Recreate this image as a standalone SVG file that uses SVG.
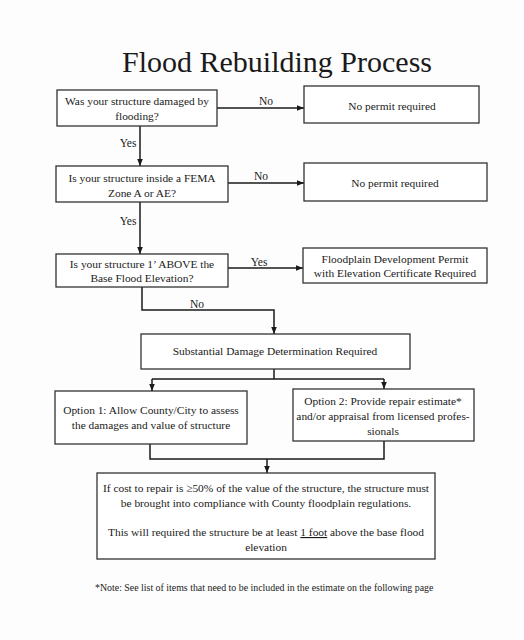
<svg xmlns="http://www.w3.org/2000/svg" width="524" height="640" viewBox="0 0 524 640">
<style>
.bg{fill:#fdfdfd}
.box{fill:#ffffff;stroke:#333;stroke-width:1.3}
.t{font-family:"Liberation Serif","Times New Roman",serif;font-size:11.4px;fill:#1a1a1a;text-anchor:middle}
.lbl{font-family:"Liberation Serif","Times New Roman",serif;font-size:11.5px;fill:#1a1a1a;text-anchor:middle}
.c{fill:none;stroke:#1a1a1a;stroke-width:1.5}
</style>
<defs>
<marker id="ah" viewBox="0 0 10 10" refX="10" refY="5" markerWidth="7" markerHeight="7" orient="auto" markerUnits="userSpaceOnUse">
<path d="M0,1 L10,5 L0,9 z" fill="#1a1a1a"/>
</marker>
</defs>
<rect class="bg" x="0" y="0" width="524" height="640"/>
<text x="277" y="72" font-family="Liberation Serif,'Times New Roman',serif" font-size="30" fill="#1a1a1a" text-anchor="middle">Flood Rebuilding Process</text>

<g id="connectors">
<path class="c" d="M217,108 H304" marker-end="url(#ah)"/>
<path class="c" d="M140,126 V166" marker-end="url(#ah)"/>
<path class="c" d="M228,183 H304" marker-end="url(#ah)"/>
<path class="c" d="M140,202 V254" marker-end="url(#ah)"/>
<path class="c" d="M228,268 H303" marker-end="url(#ah)"/>
<path class="c" d="M142,287 V310 H274 V334" marker-end="url(#ah)"/>
<path class="c" d="M274,369 V379"/>
<path class="c" d="M152,379 H384"/>
<path class="c" d="M152,379 V391" marker-end="url(#ah)"/>
<path class="c" d="M384,379 V389" marker-end="url(#ah)"/>
<path class="c" d="M150,444 V459 H384 V441"/>
<path class="c" d="M267,459 V473" marker-end="url(#ah)"/>
<text class="lbl" x="266" y="105">No</text>
<text class="lbl" x="128" y="147">Yes</text>
<text class="lbl" x="261" y="180">No</text>
<text class="lbl" x="128" y="225">Yes</text>
<text class="lbl" x="259" y="266">Yes</text>
<text class="lbl" x="197" y="308">No</text>
</g>

<g id="q1">
<rect class="box" x="57" y="90" width="160" height="36"/>
<text class="t" x="137" y="105">Was your structure damaged by</text>
<text class="t" x="137" y="120">flooding?</text>
</g>
<g id="np1">
<rect class="box" x="304" y="86" width="175" height="37"/>
<text class="t" x="392" y="110">No permit required</text>
</g>
<g id="q2">
<rect class="box" x="56" y="166" width="172" height="36"/>
<text class="t" x="142" y="182">Is your structure inside a FEMA</text>
<text class="t" x="142" y="197">Zone A or AE?</text>
</g>
<g id="np2">
<rect class="box" x="304" y="163" width="183" height="38"/>
<text class="t" x="395" y="187">No permit required</text>
</g>
<g id="q3">
<rect class="box" x="56" y="254" width="172" height="33"/>
<text class="t" x="142" y="268">Is your structure 1’ ABOVE the</text>
<text class="t" x="142" y="282">Base Flood Elevation?</text>
</g>
<g id="fdp">
<rect class="box" x="303" y="248" width="184" height="35"/>
<text class="t" x="395" y="263">Floodplain Development Permit</text>
<text class="t" x="395" y="277">with Elevation Certificate Required</text>
</g>
<g id="sdd">
<rect class="box" x="141" y="334" width="269" height="35"/>
<text class="t" x="275" y="355">Substantial Damage Determination Required</text>
</g>
<g id="opt1">
<rect class="box" x="55" y="391" width="192" height="53"/>
<text class="t" x="151" y="414">Option 1: Allow County/City to assess</text>
<text class="t" x="151" y="429">the damages and value of structure</text>
</g>
<g id="opt2">
<rect class="box" x="293" y="389" width="181" height="52"/>
<text class="t" x="383" y="405">Option 2: Provide repair estimate*</text>
<text class="t" x="383" y="420">and/or appraisal from licensed profes-</text>
<text class="t" x="383" y="435">sionals</text>
</g>
<g id="result">
<rect class="box" x="97" y="473" width="338" height="86"/>
<text class="t" x="266" y="492">If cost to repair is ≥50% of the value of the structure, the structure must</text>
<text class="t" x="266" y="507">be brought into compliance with County floodplain regulations.</text>
<text class="t" x="266" y="536">This will required the structure be at least <tspan text-decoration="underline">1 foot</tspan> above the base flood</text>
<text class="t" x="266" y="551">elevation</text>
</g>
<text x="95" y="591" font-family="Liberation Serif,'Times New Roman',serif" font-size="9.9" fill="#1a1a1a">*Note: See list of items that need to be included in the estimate on the following page</text>
</svg>
